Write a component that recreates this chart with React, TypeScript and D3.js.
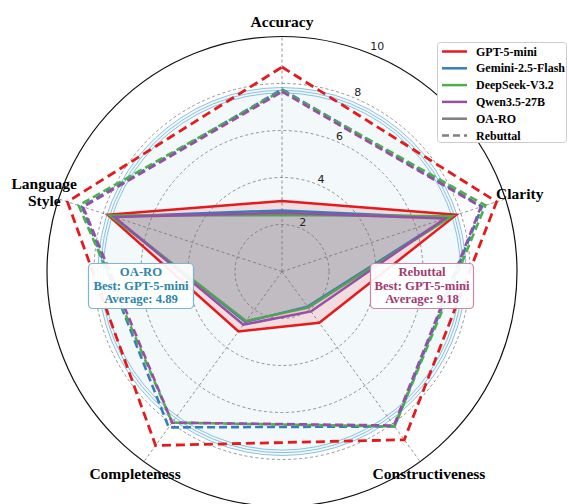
import React from "react";
import * as d3 from "d3";

const categories = ["Accuracy", "Clarity", "Constructiveness", "Completeness", "Language Style"];
const models = ["GPT-5-mini", "Gemini-2.5-Flash", "DeepSeek-V3.2", "Qwen3.5-27B"];
const colors = ["#e41a1c", "#377eb8", "#4daf4a", "#984ea3"];

const oaroGPT = [3.0, 7.8, 2.7, 3.15, 7.8];
const oaroGemini = [2.6, 7.4, 1.85, 2.65, 7.55];
const oaroDeepSeek = [2.4, 7.6, 1.9, 2.6, 7.7];
const oaroQwen = [2.5, 7.3, 2.1, 2.8, 7.5];

const rebGPT = [8.7, 9.6, 8.85, 9.15, 9.6];
const rebGemini = [7.75, 8.95, 8.15, 8.2, 8.95];
const rebDeepSeek = [7.7, 9.1, 8.15, 7.95, 9.1];
const rebQwen = [7.65, 8.9, 8.1, 7.95, 8.9];

const oaroSeries = [oaroGPT, oaroGemini, oaroDeepSeek, oaroQwen];
const rebSeries = [rebGPT, rebGemini, rebDeepSeek, rebQwen];

const gridTicks = [2, 4, 6, 8];
const tickLabels = [2, 4, 6, 8, 10];
const glowRings = [7.6, 7.71, 7.83];

const W = 569;
const H = 504;
const cx = 282;
const cy = 271.5;
const serif = "'Liberation Serif', 'Times New Roman', serif";
const sans = "'DejaVu Sans', sans-serif";

export default function App() {
  const r = d3.scaleLinear().domain([0, 10]).range([0, 235]);
  const angle = d3
    .scaleLinear()
    .domain([0, categories.length])
    .range([0, 2 * Math.PI]);

  const radial = d3
    .lineRadial<number>()
    .angle((_, i) => angle(i))
    .radius((v) => r(v))
    .curve(d3.curveLinearClosed);

  const pt = (a: number, rad: number) => [rad * Math.sin(a), -rad * Math.cos(a)];

  const labelR = 250;
  const tickAngle = (23 * Math.PI) / 180;

  const legendItems = [
    ...models.map((m, i) => ({ label: m, color: colors[i], dash: "" })),
    { label: "OA-RO", color: "#7f7f7f", dash: "" },
    { label: "Rebuttal", color: "#7f7f7f", dash: "7,4" },
  ];

  return (
    <div style={{ position: "absolute", left: 0, top: 0 }}>
      <svg width={W} height={H} style={{ display: "block", background: "#fff" }}>
        <g transform={`translate(${cx},${cy})`}>
          <circle r={r(glowRings[2])} fill="#f3f8fb" />
          {glowRings.map((g) => (
            <circle key={g} r={r(g)} fill="none" stroke="#6cb2d8" strokeWidth={0.8} />
          ))}
          {gridTicks.map((t) => (
            <circle key={t} r={r(t)} fill="none" stroke="#7a7a7a" strokeWidth={0.8} strokeDasharray="3,2.5" />
          ))}
          {categories.map((c, i) => {
            const [x, y] = pt(angle(i), r(10));
            return (
              <line key={c} x1={0} y1={0} x2={x} y2={y} stroke="#7a7a7a" strokeWidth={0.8} strokeDasharray="3,2.5" />
            );
          })}
          <circle r={r(10)} fill="none" stroke="#111" strokeWidth={1.2} />

          {oaroSeries.map((s, i) => (
            <path
              key={"o" + i}
              d={radial(s) as string}
              fill={colors[i]}
              fillOpacity={0.12}
              stroke={colors[i]}
              strokeWidth={2.5}
              strokeLinejoin="miter"
            />
          ))}
          {rebSeries.map((s, i) => (
            <path
              key={"r" + i}
              d={radial(s) as string}
              fill="none"
              stroke={colors[i]}
              strokeWidth={i === 0 ? 2.8 : 2.6}
              strokeDasharray={i === 0 ? "9,5" : "8,4"}
              strokeLinejoin="miter"
            />
          ))}

          {tickLabels.map((t) => {
            const [x, y] = pt(tickAngle, r(t) + (t === 10 ? 9 : 6));
            return (
              <text key={t} x={x} y={y} fontFamily={sans} fontSize={11} fill="#222" textAnchor="middle" dominantBaseline="central">
                {t}
              </text>
            );
          })}

          {categories.map((c, i) => {
            const [x, y] = pt(angle(i), labelR);
            const lines = c === "Language Style" ? ["Language", "Style"] : [c];
            const lh = 17;
            return (
              <text
                key={c}
                x={x}
                y={y}
                fontFamily={serif}
                fontWeight="bold"
                fontSize={15.5}
                fill="#000"
                textAnchor="middle"
              >
                {lines.map((l, k) => (
                  <tspan key={l} x={x} y={y + (k - (lines.length - 1) / 2) * lh + (lines.length > 1 ? 3.5 : 5)}>
                    {l}
                  </tspan>
                ))}
              </text>
            );
          })}
        </g>

        <g>
          <rect x={88.5} y={263.5} width={105} height={45} rx={4} fill="#fff" fillOpacity={0.92} stroke="#7ab6d3" strokeWidth={1.2} />
          <text fontFamily={serif} fontWeight="bold" fontSize={12.7} fill="#2e86ab" textAnchor="middle">
            <tspan x={141} y={276}>OA-RO</tspan>
            <tspan x={141} y={289.5}>Best: GPT-5-mini</tspan>
            <tspan x={141} y={303}>Average: 4.89</tspan>
          </text>
          <rect x={370.5} y={263.5} width={103} height={45} rx={4} fill="#fff" fillOpacity={0.92} stroke="#c887ab" strokeWidth={1.2} />
          <text fontFamily={serif} fontWeight="bold" fontSize={12.7} fill="#a23b72" textAnchor="middle">
            <tspan x={422} y={276}>Rebuttal</tspan>
            <tspan x={422} y={289.5}>Best: GPT-5-mini</tspan>
            <tspan x={422} y={303}>Average: 9.18</tspan>
          </text>
        </g>

        <g>
          <rect x={437.5} y={42.5} width={129} height={100} rx={3} fill="#fff" stroke="#cccccc" strokeWidth={1} />
          {legendItems.map((it, i) => {
            const y = 51.5 + i * 16.8;
            return (
              <g key={it.label}>
                <line x1={442} x2={467} y1={y} y2={y} stroke={it.color} strokeWidth={2.5} strokeDasharray={it.dash} />
                <text x={476} y={y} fontFamily={serif} fontWeight="bold" fontSize={12} fill="#000" dominantBaseline="central">
                  {it.label}
                </text>
              </g>
            );
          })}
        </g>
      </svg>
    </div>
  );
}
